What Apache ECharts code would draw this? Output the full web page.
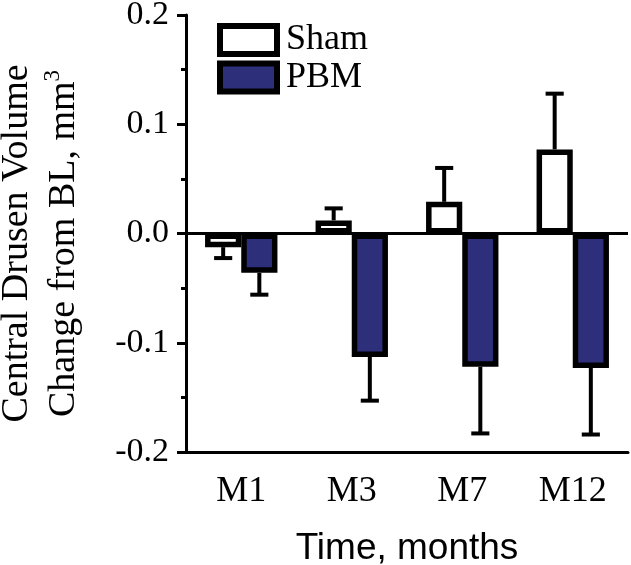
<!DOCTYPE html>
<html><head><meta charset="utf-8">
<script src="https://cdn.jsdelivr.net/npm/echarts@6/dist/echarts.min.js"></script>
<style>html,body{margin:0;padding:0;background:#fff}#c{width:631px;height:565px}</style>
</head><body><div id="c"></div>
<script>
const categories = ['M1', 'M3', 'M7', 'M12'];
const shamMean = [-0.0125, 0.012, 0.029, 0.077];
const shamErr = [0.010, 0.011, 0.031, 0.051];
const pbmMean = [-0.036, -0.113, -0.122, -0.123];
const pbmErr = [0.020, 0.040, 0.061, 0.061];
const seriesNames = ['Sham', 'PBM'];
const yTitleLine1 = 'Central Drusen Volume';
const yTitleLine2 = 'Change from BL, mm';
const xTitle = 'Time, months';

const SERIF = 'Liberation Serif';
const SANS = 'Liberation Sans';

function errSeries(name, means, errs, side) {
  return {
    type: 'custom',
    name: name + ' SEM',
    data: means.map((m, i) => [i, m, errs[i]]),
    encode: { x: 0, y: 1 },
    z: 3,
    silent: true,
    renderItem(params, api) {
      const i = api.value(0), m = api.value(1), e = api.value(2);
      const dir = m >= 0 ? 1 : -1;
      const bw = api.size([1, 0])[0];
      const off = side * bw * 0.1636;
      const p0 = api.coord([i, m]);
      const p1 = api.coord([i, m + dir * e]);
      const x = p0[0] + off;
      const cap = bw * 0.082;
      const st = { stroke: '#000', lineWidth: 4 };
      return {
        type: 'group',
        children: [
          { type: 'line', shape: { x1: x, y1: p0[1], x2: x, y2: p1[1] }, style: st },
          { type: 'line', shape: { x1: x - cap, y1: p1[1], x2: x + cap, y2: p1[1] }, style: st }
        ]
      };
    }
  };
}

const chart = echarts.init(document.getElementById('c'), null, { renderer: 'canvas' });
chart.setOption({
  animation: false,
  backgroundColor: '#fff',
  grid: { left: 186, right: 3, top: 15, bottom: 113, containLabel: false, outerBoundsMode: 'none' },
  legend: {
    data: seriesNames,
    orient: 'vertical',
    left: 212,
    top: 17,
    itemWidth: 57,
    itemHeight: 28,
    itemGap: 1.5,
    icon: 'rect',
    textStyle: { fontFamily: SERIF, fontSize: 36, color: '#000', padding: [0, 0, 0, 4] },
    itemStyle: { borderColor: '#000', borderWidth: 6 }
  },
  xAxis: {
    type: 'category',
    data: categories,
    axisLine: { onZero: false, lineStyle: { color: '#000', width: 3 } },
    axisTick: { alignWithLabel: true, length: 12, lineStyle: { color: '#000', width: 3 } },
    axisLabel: { fontFamily: SERIF, fontSize: 36, color: '#000', margin: 22 },
    name: xTitle,
    nameLocation: 'middle',
    nameGap: 78,
    nameTextStyle: { fontFamily: SANS, fontSize: 37, color: '#000' }
  },
  yAxis: {
    type: 'value',
    min: -0.2, max: 0.2, interval: 0.1,
    axisLine: { show: true, lineStyle: { color: '#000', width: 3 } },
    axisTick: { show: true, length: 9, lineStyle: { color: '#000', width: 3 } },
    minorTick: { show: true, splitNumber: 2, length: 5, lineStyle: { color: '#000', width: 3 } },
    splitLine: { show: false },
    axisLabel: { formatter: v => v.toFixed(1), fontFamily: SERIF, fontSize: 34, color: '#000', margin: 17 },
    name: '{n|' + yTitleLine1 + '}\n{n|' + yTitleLine2 + '}{s|3}',
    nameLocation: 'middle',
    nameRotate: 90,
    nameGap: 98,
    nameTextStyle: {
      padding: [0, 20, 0, 0],
      rich: {
        n: { fontFamily: SERIF, fontSize: 38, color: '#000', lineHeight: 47 },
        s: { fontFamily: SERIF, fontSize: 23, color: '#000', verticalAlign: 'top', lineHeight: 24 }
      }
    }
  },
  series: [
    {
      name: 'Sham', type: 'bar', data: shamMean,
      barCategoryGap: '34.5%', barGap: '0%',
      itemStyle: { color: '#fff', borderColor: '#000', borderWidth: 5.5 },
      markLine: {
        silent: true, symbol: 'none', label: { show: false },
        lineStyle: { color: '#000', width: 3, type: 'solid' },
        data: [{ yAxis: 0 }]
      }
    },
    {
      name: 'PBM', type: 'bar', data: pbmMean,
      barCategoryGap: '34.5%', barGap: '0%',
      itemStyle: { color: '#2e2f7b', borderColor: '#000', borderWidth: 5.5 }
    },
    errSeries('Sham', shamMean, shamErr, -1),
    errSeries('PBM', pbmMean, pbmErr, 1)
  ]
});
</script></body></html>
